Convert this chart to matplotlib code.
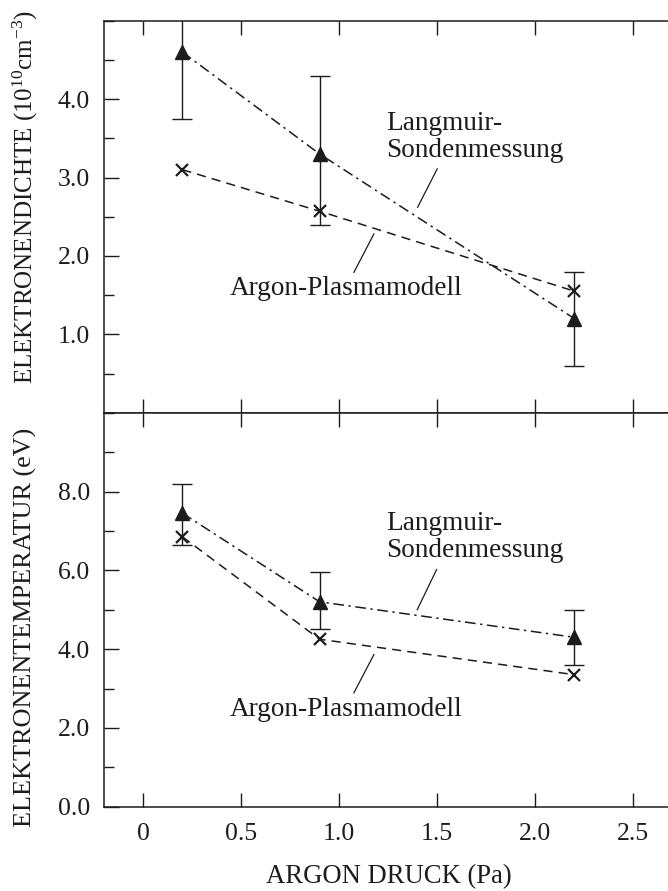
import matplotlib
matplotlib.use("Agg")
import matplotlib.pyplot as plt
from matplotlib.ticker import MultipleLocator

plt.rcParams['font.family'] = ['Liberation Serif', 'DejaVu Serif']
plt.rcParams['mathtext.fontset'] = 'custom'
plt.rcParams['mathtext.rm'] = 'Liberation Serif'
plt.rcParams['mathtext.it'] = 'Liberation Serif:italic'
plt.rcParams['mathtext.default'] = 'rm'

# Argon pressure (Pa)
pressure = [0.2, 0.9, 2.2]

# electron density (1e10 cm^-3)
dens_probe = [4.6, 3.3, 1.2]
dens_probe_lo = [3.75, 2.40, 0.60]
dens_probe_hi = [5.45, 4.30, 1.80]
dens_model = [3.10, 2.57, 1.55]

# electron temperature (eV)
temp_probe = [7.45, 5.2, 4.3]
temp_probe_lo = [6.65, 4.5, 3.6]
temp_probe_hi = [8.2, 5.95, 5.0]
temp_model = [6.85, 4.25, 3.35]

xtick_vals = [0, 0.5, 1.0, 1.5, 2.0, 2.5]
xtick_labels = ["0", "0.5", "1.0", "1.5", "2.0", "2.5"]

INK = '#1c1c1c'
FS_TICK = 18.5
FS_LABEL = 18.8
FS_NOTE = 19.6
DASHDOT = (0, (7, 3, 1.5, 3))
DASHED = (0, (6, 4))

W, H = 668, 891
fig = plt.figure(figsize=(W / 100, H / 100), dpi=100)
left, width = 104 / W, 588 / W
ax1 = fig.add_axes([left, 1 - 412.7 / H, width, 392 / H])
ax2 = fig.add_axes([left, 1 - 806.7 / H, width, 394 / H])


def draw_panel(ax, probe, lo, hi, model):
    yerr = [[p - l for p, l in zip(probe, lo)], [h - p for p, h in zip(probe, hi)]]
    ax.errorbar(pressure, probe, yerr=yerr, fmt='none', ecolor=INK,
                elinewidth=1.0, capsize=7, capthick=1.0, zorder=2)
    ax.plot(pressure, probe, color=INK, lw=1.1, linestyle=DASHDOT,
            marker='^', ms=10.5, mfc=INK, mec=INK, zorder=3)
    ax.plot(pressure, model, color=INK, lw=1.1, linestyle=DASHED,
            marker='x', ms=8, mew=1.6, mec=INK, zorder=3)
    ax.set_xlim(-0.2, 2.8)
    ax.set_xticks(xtick_vals)
    for s in ax.spines.values():
        s.set_linewidth(1.1)
        s.set_color(INK)
    ax.tick_params(axis='x', which='major', direction='in', length=10,
                   width=1.0, top=True, bottom=True, colors=INK,
                   labelsize=FS_TICK, pad=12)
    ax.tick_params(axis='y', which='major', direction='in', length=11,
                   width=1.0, right=False, colors=INK, labelsize=FS_TICK, pad=10)
    ax.tick_params(axis='y', which='minor', direction='in', length=7,
                   width=1.0, right=False, colors=INK)


def label(ax, x, y, text):
    ax.text(x, y, text, fontsize=FS_NOTE, color=INK, ha='left', va='center',
            linespacing=1.1)


def leader(ax, x0, y0, x1, y1):
    ax.plot([x0, x1], [y0, y1], color=INK, lw=0.9, zorder=1)


# upper panel: electron density
draw_panel(ax1, dens_probe, dens_probe_lo, dens_probe_hi, dens_model)
ax1.set_ylim(0, 5.0)
ax1.yaxis.set_minor_locator(MultipleLocator(0.5))
ax1.set_yticks([1, 2, 3, 4])
ax1.set_yticklabels(["1.0", "2.0", "3.0", "4.0"])
ax1.tick_params(axis='x', labelbottom=False)
label(ax1, 1.24, 3.52, "Langmuir-\nSondenmessung")
leader(ax1, 1.50, 3.11, 1.40, 2.62)
label(ax1, 0.443, 1.58, "Argon-Plasmamodell")
leader(ax1, 1.177, 2.28, 1.075, 1.79)

# lower panel: electron temperature
draw_panel(ax2, temp_probe, temp_probe_lo, temp_probe_hi, temp_model)
ax2.set_ylim(0, 10.0)
ax2.yaxis.set_minor_locator(MultipleLocator(1.0))
ax2.set_yticks([0, 2, 4, 6, 8])
ax2.set_yticklabels(["0.0", "2.0", "4.0", "6.0", "8.0"])
ax2.set_xticklabels(xtick_labels)
label(ax2, 1.24, 6.85, "Langmuir-\nSondenmessung")
leader(ax2, 1.497, 6.02, 1.398, 5.0)
label(ax2, 0.443, 2.46, "Argon-Plasmamodell")
leader(ax2, 1.177, 3.86, 1.075, 2.89)

fig.text(25 / W, 1 - 197 / H, r"ELEKTRONENDICHTE (10$^{10}$cm$^{-3}$)",
         rotation=90, ha='center', va='center', fontsize=18.0, color=INK)
fig.text(25 / W, 1 - 627.5 / H, "ELEKTRONENTEMPERATUR (eV)",
         rotation=90, ha='center', va='center', fontsize=FS_LABEL, color=INK)
fig.text(389 / W, 1 - 877 / H, "ARGON DRUCK (Pa)",
         ha='center', va='center', fontsize=FS_LABEL + 0.4, color=INK)

fig.savefig("out.png", dpi=100)
